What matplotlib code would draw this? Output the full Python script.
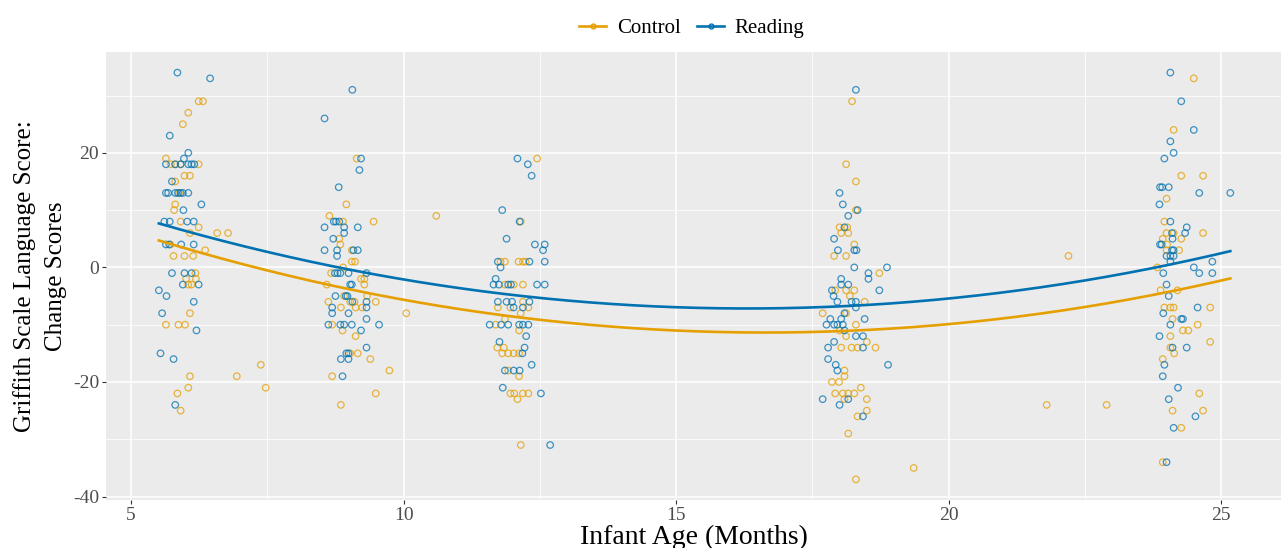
import numpy as np
import matplotlib
matplotlib.use("Agg")
import matplotlib.pyplot as plt
from matplotlib.lines import Line2D

# Control group (age in months, change score)
control_age = [
    6.24, 6.32, 6.05, 5.95, 5.64, 5.73, 5.81, 5.91, 6.24, 5.98, 6.08, 5.81, 5.88, 5.81, 5.79, 5.91, 6.24,
    6.58, 6.78, 6.08, 5.72, 6.36, 5.78, 5.98, 6.14, 6.18, 6.01, 6.19, 6.05, 6.11, 6.08, 5.64, 5.87, 5.99,
    7.38, 6.08, 6.94, 7.47, 6.05, 5.85, 5.91,
    9.14, 8.95, 8.64, 8.89, 9.45, 8.82, 8.84, 9.05, 9.05, 9.11, 8.89, 8.67, 9.22, 9.28, 8.59, 9.28, 8.91,
    9.33, 8.62, 9.02, 9.10, 9.49, 8.85, 9.12, 9.24, 10.05, 8.69, 8.88, 9.12, 9.02, 9.16, 9.39, 9.74, 8.69,
    9.49, 8.85, 10.6,
    12.45, 12.15, 11.78, 11.86, 12.11, 12.19, 12.24, 11.86, 12.02, 12.19, 12.19, 11.73, 11.96, 12.29, 12.15,
    11.86, 11.69, 12.12, 11.72, 11.84, 11.81, 11.92, 12.02, 12.12, 11.92, 12.12, 11.96, 12.03, 12.19, 12.29,
    12.09, 12.15,
    18.23, 18.12, 18.30, 18.30, 18.0, 18.14, 18.03, 18.16, 18.27, 17.90, 18.12, 18.73, 17.92, 18.12, 18.27,
    18.19, 18.46, 17.69, 18.12, 18.30, 18.0, 18.12, 18.5, 18.03, 18.22, 18.33, 18.66, 18.09, 18.09, 17.86,
    17.99, 18.39, 17.92, 18.06, 18.16, 18.27, 18.09, 18.5, 18.5, 18.33, 18.16, 19.36, 18.30, 21.8, 22.9, 22.2,
    24.50, 24.13, 24.27, 24.67, 24.0, 23.96, 24.0, 24.13, 24.67, 23.93, 24.27, 24.01, 24.0, 24.23, 23.83,
    23.89, 24.2, 23.96, 24.07, 24.13, 24.80, 24.11, 24.57, 24.30, 24.40, 24.07, 24.80, 24.07, 24.14, 23.93,
    24.60, 24.11, 24.67, 24.27, 23.93,
]
control_score = [
    29, 29, 27, 25, 19, 18, 18, 18, 18, 16, 16, 15, 13, 11, 10, 8, 7,
    6, 6, 6, 4, 3, 2, 2, 2, -1, -2, -2, -3, -3, -8, -10, -10, -10,
    -17, -19, -19, -21, -21, -22, -25,
    19, 11, 9, 8, 8, 5, 4, 3, 1, 1, 0, -1, -2, -2, -3, -3, -5,
    -5, -6, -6, -6, -6, -7, -7, -7, -8, -10, -11, -12, -15, -15, -16, -18, -19,
    -22, -24, 9,
    19, 8, 1, 1, 1, 1, 1, -3, -3, -3, -6, -7, -7, -7, -8,
    -9, -10, -11, -14, -14, -15, -15, -15, -15, -18, -19, -22, -22, -22, -22,
    -23, -31,
    29, 18, 15, 10, 7, 7, 6, 6, 4, 2, 2, -1, -4, -4, -4,
    -5, -6, -8, -8, -10, -11, -12, -13, -14, -14, -14, -14, -18, -19, -20,
    -20, -21, -22, -22, -22, -22, -23, -23, -25, -26, -29, -35, -37, -24, -24, 2,
    33, 24, 16, 16, 12, 8, 6, 6, 6, 5, 5, 4, 3, 3, 0,
    -4, -4, -7, -7, -7, -7, -9, -10, -11, -11, -12, -13, -14, -15, -16,
    -22, -25, -25, -28, -34,
]

# Reading group
reading_age = [
    5.85, 6.45, 5.71, 6.05, 5.97, 5.64, 5.81, 5.91, 6.05, 6.11, 6.16, 5.75, 5.64, 5.68, 5.81, 5.86, 5.91,
    5.95, 6.05, 5.96, 6.29, 5.61, 5.71, 6.03, 6.15, 5.64, 5.70, 5.92, 6.15, 5.75, 5.98, 6.11, 5.95, 6.24,
    5.51, 5.65, 6.15, 5.57, 6.2, 5.54, 5.78, 5.81,
    8.55, 9.06, 9.22, 9.19, 8.81, 8.72, 8.76, 8.82, 8.55, 8.91, 9.16, 8.91, 8.71, 8.55, 8.78, 9.08, 9.16,
    8.78, 8.74, 8.79, 8.84, 8.99, 9.32, 9.02, 9.05, 8.75, 8.94, 8.97, 9.06, 9.32, 8.69, 9.32, 8.69, 8.99,
    9.32, 8.62, 8.84, 8.91, 9.05, 9.55, 9.22, 9.32, 8.95, 8.99, 8.85, 8.99, 8.88,
    12.09, 12.28, 12.35, 11.81, 12.13, 11.89, 12.41, 12.59, 12.56, 11.73, 12.31, 12.59, 11.78, 11.69, 11.65,
    11.75, 11.92, 11.97, 12.45, 12.59, 11.73, 11.89, 11.99, 12.31, 12.02, 12.19, 11.58, 11.79, 11.92, 12.12,
    12.19, 12.29, 12.25, 11.76, 12.22, 12.18, 12.35, 11.86, 12.02, 12.13, 11.82, 12.52, 12.69,
    18.30, 18.0, 18.06, 18.33, 18.16, 18.09, 17.9, 17.97, 18.27, 18.31, 18.27, 18.87, 18.53, 18.53, 18.03,
    18.03, 18.16, 17.86, 18.73, 17.89, 17.96, 18.22, 18.30, 18.30, 18.09, 17.83, 18.03, 18.46, 17.76, 17.90,
    17.96, 18.06, 18.09, 18.30, 18.43, 17.9, 17.79, 18.43, 17.79, 17.93, 18.89, 17.96, 17.69, 18.16, 18.0,
    18.43,
    24.07, 24.27, 24.5, 24.07, 24.13, 23.96, 23.88, 23.92, 24.04, 24.60, 25.17, 23.87, 24.07, 24.37, 24.1,
    24.34, 24.11, 23.88, 23.91, 24.1, 24.13, 24.0, 24.07, 24.13, 24.07, 24.84, 24.5, 23.94, 24.60, 24.84,
    24.0, 24.04, 24.57, 23.94, 24.27, 24.30, 24.07, 23.87, 24.11, 24.37, 23.96, 23.93, 24.21, 24.04, 24.53,
    24.13, 24.0,
]
reading_score = [
    34, 33, 23, 20, 19, 18, 18, 18, 18, 18, 18, 15, 13, 13, 13, 13, 13,
    13, 13, 10, 11, 8, 8, 8, 8, 4, 4, 4, 4, -1, -1, -1, -3, -3,
    -4, -5, -6, -8, -11, -15, -16, -24,
    26, 31, 19, 17, 14, 8, 8, 8, 7, 7, 7, 6, 5, 3, 3, 3, 3,
    2, -1, -1, -1, -1, -1, -3, -3, -5, -5, -5, -6, -6, -7, -7, -8, -8,
    -9, -10, -10, -10, -10, -10, -11, -14, -15, -15, -16, -16, -19,
    19, 18, 16, 10, 8, 5, 4, 4, 3, 1, 1, 1, 0, -2, -3,
    -3, -3, -3, -3, -3, -6, -6, -6, -6, -7, -7, -10, -10, -10, -10,
    -10, -10, -12, -13, -14, -15, -17, -18, -18, -18, -21, -22, -31,
    31, 13, 11, 10, 9, 7, 5, 3, 3, 3, 0, 0, -1, -2, -2,
    -3, -3, -4, -4, -5, -6, -6, -6, -7, -8, -9, -9, -9, -10, -10,
    -10, -10, -11, -12, -12, -13, -14, -14, -16, -17, -17, -18, -23, -23, -24,
    -26,
    34, 29, 24, 22, 20, 19, 14, 14, 14, 13, 13, 11, 8, 7, 6,
    6, 5, 4, 4, 3, 3, 2, 2, 2, 1, 1, 0, -1, -1, -1,
    -3, -5, -7, -8, -9, -9, -10, -12, -14, -14, -17, -19, -21, -23, -26,
    -28, -34,
]

groups = ["Control", "Reading"]
colors = {"Control": "#E69F00", "Reading": "#0072B2"}
data = {"Control": (control_age, control_score), "Reading": (reading_age, reading_score)}

plt.rcParams["font.family"] = ["Liberation Serif", "DejaVu Serif"]
plt.rcParams["axes.unicode_minus"] = False

fig = plt.figure(figsize=(12.81, 5.48), dpi=100)
ax = fig.add_axes([106 / 1281, 48 / 548, 1 - 106 / 1281, 448 / 548])
ax.set_facecolor("#EBEBEB")

all_age = np.array(control_age + reading_age)
for g in groups:
    x = np.array(data[g][0])
    y = np.array(data[g][1])
    ax.scatter(x, y, s=22, facecolors="none", edgecolors=colors[g], linewidths=0.9, alpha=0.75, zorder=3)
    # quadratic fit over the full age range, like geom_smooth(method = "lm", formula = y ~ poly(x, 2))
    coef = np.polyfit(x, y, 2)
    xs = np.linspace(all_age.min(), all_age.max(), 200)
    ax.plot(xs, np.polyval(coef, xs), color=colors[g], lw=1.9, zorder=4)

ax.set_xlim(4.54, 26.1)
ax.set_ylim(-40.6, 37.6)
ax.set_xticks([5, 10, 15, 20, 25])
ax.set_yticks([-40, -20, 0, 20])
ax.set_xticks([7.5, 12.5, 17.5, 22.5], minor=True)
ax.set_yticks([-30, -10, 10, 30], minor=True)
ax.grid(which="major", color="white", lw=1.1)
ax.grid(which="minor", color="white", lw=0.55)
ax.set_axisbelow(True)
for s in ax.spines.values():
    s.set_visible(False)
ax.tick_params(which="major", length=3, color="#333333", labelsize=14, labelcolor="#4D4D4D", pad=2)
ax.tick_params(which="minor", length=0)

ax.set_xlabel("Infant Age (Months)", fontsize=20, labelpad=1)
ax.set_ylabel("Griffith Scale Language Score:\nChange Scores", fontsize=18, labelpad=4, linespacing=1.55)

handles = [Line2D([0], [0], color=colors[g], lw=1.9, marker="o", markersize=3.5,
                  markerfacecolor="none", markeredgecolor=colors[g]) for g in groups]
fig.legend(handles, groups, loc="upper center", bbox_to_anchor=(0.54, 1.0), ncol=2, frameon=False,
           fontsize=15, handlelength=1.3, handletextpad=0.5, columnspacing=0.8)

fig.savefig("out.png", dpi=100)
